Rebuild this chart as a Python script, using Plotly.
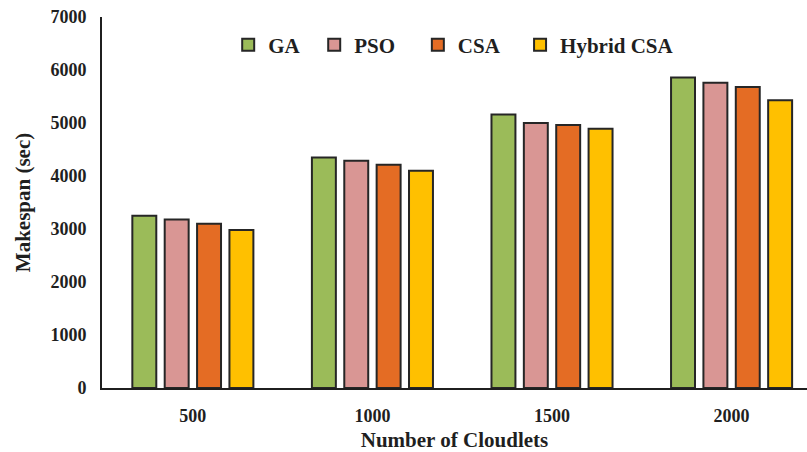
import plotly.graph_objects as go

# Makespan (sec) per scheduling algorithm, grouped by number of cloudlets
cloudlets = ["500", "1000", "1500", "2000"]
ga = [3250, 4350, 5160, 5860]
pso = [3180, 4290, 5000, 5760]
csa = [3100, 4210, 4960, 5680]
hybrid_csa = [2980, 4100, 4890, 5430]

series = [
    ("GA", ga, "#9BBB59", "legend", 0.179),
    ("PSO", pso, "#D99694", "legend2", 0.301),
    ("CSA", csa, "#E46C24", "legend3", 0.448),
    ("Hybrid CSA", hybrid_csa, "#FFC000", "legend4", 0.593),
]

FONT = "Liberation Serif"
INK = "#1f1f1f"

fig = go.Figure()
legends = {}
for name, vals, color, leg, lx in series:
    fig.add_trace(go.Bar(
        x=cloudlets, y=vals, name=name, legend=leg,
        marker=dict(color=color, line=dict(color="#262626", width=2)),
    ))
    legends[leg] = dict(
        x=lx, y=0.9245, xanchor="left", yanchor="middle",
        orientation="h", bgcolor="rgba(0,0,0,0)",
        font=dict(family=FONT, size=21, color=INK, weight="bold"),
    )

fig.update_layout(
    width=807, height=452,
    margin=dict(l=102, r=0, t=17, b=64),
    paper_bgcolor="white", plot_bgcolor="white",
    barmode="group", bargap=0.279, bargroupgap=0.26,
    showlegend=True,
    font=dict(family=FONT, color=INK),
    **legends,
)

fig.update_xaxes(
    type="category", range=[-0.506, 3.42],
    showline=True, linecolor=INK, linewidth=2,
    showgrid=False, ticks="", ticklabelstandoff=10,
    tickfont=dict(family=FONT, size=18, color=INK, weight="bold"),
    title=dict(text="Number of Cloudlets", standoff=10,
               font=dict(family=FONT, size=21, color=INK, weight="bold")),
)
fig.update_yaxes(
    range=[0, 7000], dtick=1000, tick0=0,
    showline=True, linecolor=INK, linewidth=2,
    showgrid=False, zeroline=False, ticks="", ticklabelstandoff=10,
    tickfont=dict(family=FONT, size=18, color=INK, weight="bold"),
    title=dict(text="Makespan (sec)", standoff=14,
               font=dict(family=FONT, size=21, color=INK, weight="bold")),
)

fig.write_html("out.html")
